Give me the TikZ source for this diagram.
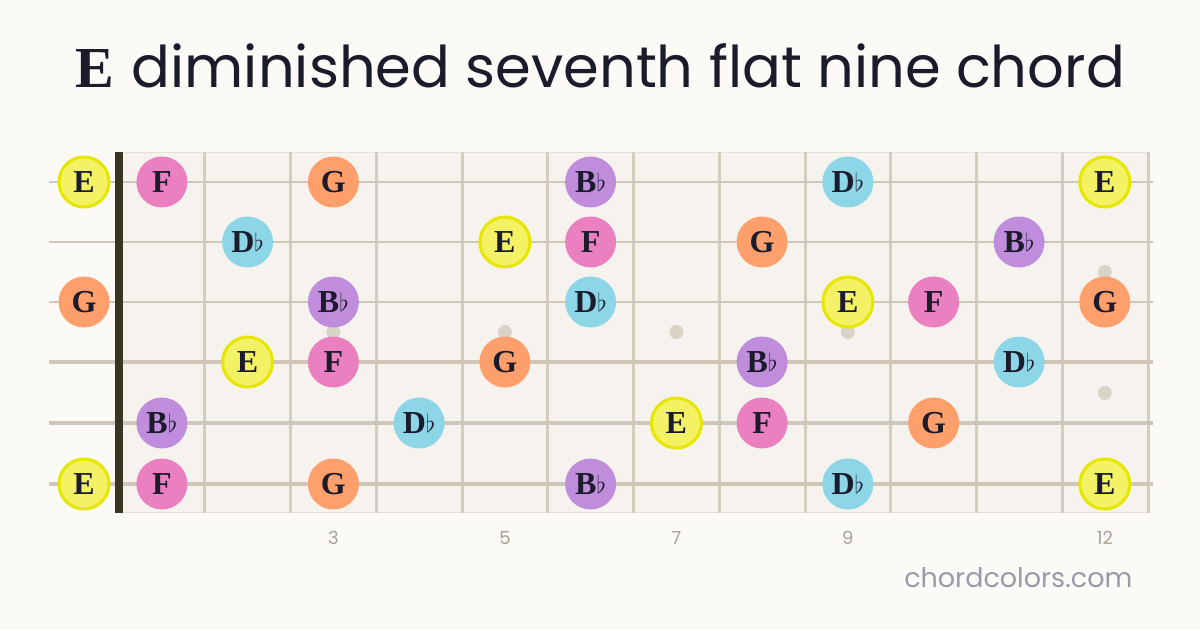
\documentclass[tikz,border=0pt]{standalone}
\usepackage{fontspec}
\newfontfamily\titlefont{Poppins}
\newfontfamily\notefont{Liberation Serif}
\usetikzlibrary{positioning}

\definecolor{pagebg}{HTML}{FBFAF7}
\definecolor{boardbg}{HTML}{F6F3EF}
\definecolor{fretcol}{HTML}{D5CCC0}
\definecolor{stringcol}{HTML}{CFC6B8}
\definecolor{nutcol}{HTML}{3A3424}
\definecolor{inkcol}{HTML}{1B1B2B}
\definecolor{dotcol}{HTML}{D9D3C8}
\definecolor{numcol}{HTML}{A8A294}
\definecolor{sitecol}{HTML}{9B9AA8}
\definecolor{ecol}{HTML}{F2F264}
\definecolor{eline}{HTML}{E6E600}
\definecolor{fcol}{HTML}{EA80C0}
\definecolor{gcol}{HTML}{FFA06C}
\definecolor{bbcol}{HTML}{C08CDC}
\definecolor{dbcol}{HTML}{8CD6E8}

\tikzset{
  note/.style={circle,minimum size=51pt,inner sep=0pt,text=inkcol,
    font=\notefont\fontsize{32}{32}\selectfont\bfseries},
  noteE/.style={note,fill=ecol,draw=eline,line width=3pt,minimum size=50pt},
  noteF/.style={note,fill=fcol},
  noteG/.style={note,fill=gcol},
  noteBb/.style={note,fill=bbcol},
  noteDb/.style={note,fill=dbcol},
  inlay/.style={circle,fill=dotcol,minimum size=14pt,inner sep=0pt},
  fretnum/.style={anchor=base,text=numcol,font=\titlefont\fontsize{18}{18}\selectfont}
}
\newcommand{\flt}{\raisebox{1pt}{\fontsize{24}{24}\selectfont$\flat$}}

\begin{document}
\begin{tikzpicture}[x=1pt,y=-1pt]

\useasboundingbox (0,0) rectangle (1200,630);
\fill[pagebg] (0,0) rectangle (1200,630);

% title
\node[anchor=base,text=inkcol] (title) at (600,87)
  {{\notefont\fontsize{58}{58}\selectfont\bfseries E}\hspace{18pt}{\titlefont\fontsize{57.5}{57.5}\selectfont diminished seventh flat nine chord}};

% board
\fill[boardbg] (119,152) rectangle (1148,513);
\draw[fretcol!60,line width=1.5pt] (119,152.5) -- (1148,152.5);
\draw[fretcol!60,line width=1pt] (119,512.5) -- (1148,512.5);

% inlays
\node[inlay] (dot3) at (333.4,332) {};
\node[inlay] (dot5) at (504.9,332) {};
\node[inlay] (dot7) at (676.4,332) {};
\node[inlay] (dot9) at (847.9,332) {};
\node[inlay] (dot12a) at (1104.8,272) {};
\node[inlay] (dot12b) at (1104.8,393) {};

% frets
\foreach \f in {1,...,12}
  \draw[fretcol,line width=3pt] ({119+85.75*\f},152) -- ({119+85.75*\f},513);

% strings
\draw[stringcol,line width=2.2pt] (49,182) -- (1153,182);
\draw[stringcol,line width=2.5pt] (49,242) -- (1153,242);
\draw[stringcol,line width=2.8pt] (49,302) -- (1153,302);
\draw[stringcol,line width=3.1pt] (49,362) -- (1153,362);
\draw[stringcol,line width=3.4pt] (49,423) -- (1153,423);
\draw[stringcol,line width=3.8pt] (49,484) -- (1153,484);

% nut
\fill[nutcol] (115,152) rectangle (123,513);

% string 1
\node[noteE] (s1f0) at (84,182) {E};
\node[noteF] (s1f1) at (161.9,182) {F};
\node[noteG] (s1f3) at (333.4,182) {G};
\node[noteBb] (s1f6) at (590.6,182) {B\flt};
\node[noteDb] (s1f9) at (847.9,182) {D\flt};
\node[noteE] (s1f12) at (1104.8,182) {E};

% string 2
\node[noteDb] (s2f2) at (247.6,242) {D\flt};
\node[noteE] (s2f5) at (504.9,242) {E};
\node[noteF] (s2f6) at (590.6,242) {F};
\node[noteG] (s2f8) at (762.1,242) {G};
\node[noteBb] (s2f11) at (1019.1,242) {B\flt};

% string 3
\node[noteG] (s3f0) at (84,302) {G};
\node[noteBb] (s3f3) at (333.4,302) {B\flt};
\node[noteDb] (s3f6) at (590.6,302) {D\flt};
\node[noteE] (s3f9) at (847.9,302) {E};
\node[noteF] (s3f10) at (933.6,302) {F};
\node[noteG] (s3f12) at (1104.8,302) {G};

% string 4
\node[noteE] (s4f2) at (247.6,362) {E};
\node[noteF] (s4f3) at (333.4,362) {F};
\node[noteG] (s4f5) at (504.9,362) {G};
\node[noteBb] (s4f8) at (762.1,362) {B\flt};
\node[noteDb] (s4f11) at (1019.1,362) {D\flt};

% string 5
\node[noteBb] (s5f1) at (161.9,423) {B\flt};
\node[noteDb] (s5f4) at (419.1,423) {D\flt};
\node[noteE] (s5f7) at (676.4,423) {E};
\node[noteF] (s5f8) at (762.1,423) {F};
\node[noteG] (s5f10) at (933.6,423) {G};

% string 6
\node[noteE] (s6f0) at (84,484) {E};
\node[noteF] (s6f1) at (161.9,484) {F};
\node[noteG] (s6f3) at (333.4,484) {G};
\node[noteBb] (s6f6) at (590.6,484) {B\flt};
\node[noteDb] (s6f9) at (847.9,484) {D\flt};
\node[noteE] (s6f12) at (1104.8,484) {E};

% fret numbers
\node[fretnum] (num3) at (333.4,544) {3};
\node[fretnum] (num5) at (504.9,544) {5};
\node[fretnum] (num7) at (676.4,544) {7};
\node[fretnum] (num9) at (847.9,544) {9};
\node[fretnum] (num12) at (1104.8,544) {12};

% site
\node[anchor=base east,text=sitecol,font=\titlefont\fontsize{27}{27}\selectfont] (site) at (1136,587) {chordcolors.com};
\end{tikzpicture}
\end{document}
